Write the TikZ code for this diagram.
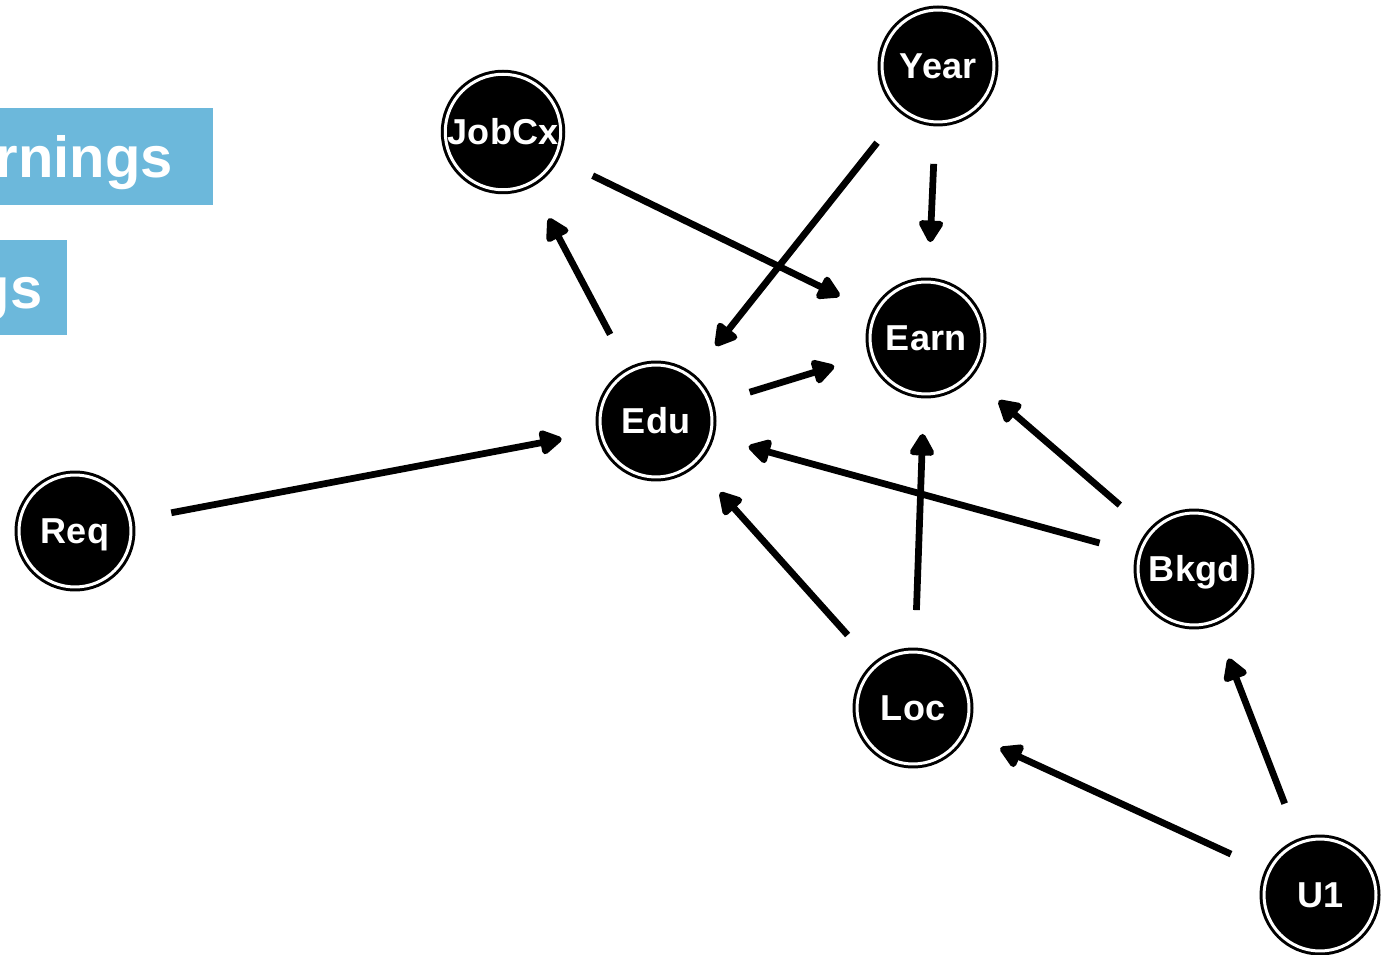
\documentclass[tikz,border=0pt]{standalone}
\usepackage{fontspec}
\setmainfont{Liberation Sans}
\usetikzlibrary{arrows.meta}
\definecolor{hdblue}{RGB}{108,184,219}

\begin{document}
\begin{tikzpicture}[
		% global units: one step = one pixel of the layout grid
		x=0.02cm, y=-0.02cm,
		% styles
		var/.style={circle, fill=black, draw=black, line width=0.06cm, double=white, double distance=0.06cm, minimum size=2.24cm, inner sep=0pt, text=white, text height=0.6cm, text depth=0.1cm, font=\fontsize{20.5}{24}\selectfont\bfseries},
		arrow/.style={-{Triangle[length=0.5cm, width=0.54cm, round]}, line width=0.135cm, shorten >=0.77cm, shorten <=0.81cm},
		bantext/.style={text=white, inner sep=0pt, font=\fontsize{33}{38}\selectfont\bfseries}
		]
		
		\clip (0,0) rectangle (1388,955);
		
		% ==========================================
		% Header bars (left edge)
		% ==========================================
		\fill[hdblue] (0,108) rectangle (213,205);
		\node[bantext, anchor=base east] (earnTitle) at (173,178) {rnings};
		
		\fill[hdblue] (0,240) rectangle (67,335);
		\node[bantext, anchor=base east] (subTitle) at (43,309) {gs};
		
		% ==========================================
		% Variables
		% ==========================================
		\node[var] (jobcx) at (503,132) {JobCx};
		\node[var] (year) at (938,66) {Year};
		\node[var] (earn) at (926,338) {Earn};
		\node[var] (edu) at (656,421) {Edu};
		\node[var] (req) at (75,531) {Req};
		\node[var] (bkgd) at (1194,569) {Bkgd};
		\node[var] (loc) at (913,708) {Loc};
		\node[var] (u1) at (1320,895) {U1};
		
		% ==========================================
		% Causal arrows
		% ==========================================
		\draw[arrow] (req) -- (edu);
		\draw[arrow] (edu) -- (jobcx);
		\draw[arrow] (jobcx) -- (earn);
		\draw[arrow] (year) -- (edu);
		\draw[arrow] (year) -- (earn);
		\draw[arrow] (edu) -- (earn);
		\draw[arrow] (bkgd) -- (earn);
		\draw[arrow] (bkgd) -- (edu);
		\draw[arrow] (loc) -- (edu);
		\draw[arrow] (loc) -- (earn);
		\draw[arrow] (u1) -- (loc);
		\draw[arrow] (u1) -- (bkgd);
		
	\end{tikzpicture}
\end{document}
